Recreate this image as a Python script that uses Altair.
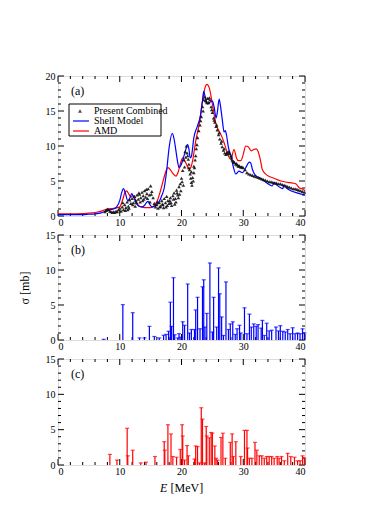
import altair as alt
import pandas as pd

W, HA, HB, HC = 247, 140, 105, 106
FONT = "Liberation Serif"

# ---- panel (a): experimental photoabsorption (triangles)
exp_E = [7.6, 7.8, 8.0, 8.2, 8.4, 8.6, 8.8, 9.0, 9.2, 9.4, 9.6, 9.8, 10.0, 10.2, 10.4,
         10.6, 10.8, 11.0, 11.2, 11.4, 11.6, 11.8, 12.0, 12.2, 12.4, 12.6, 12.8, 13.0,
         13.2, 13.4, 13.6, 13.8, 14.0, 14.2, 14.4, 14.6, 14.8, 15.0, 15.2, 15.4, 15.6,
         15.8, 16.0, 16.2, 16.4, 16.6, 16.8, 17.0, 17.2, 17.4, 17.6, 17.8, 18.0, 18.2,
         18.4, 18.6, 18.8, 19.0, 19.2, 19.4, 19.6, 19.8, 20.0, 20.2, 20.4, 20.6, 20.8,
         21.0, 21.2, 21.4, 21.6, 21.8, 22.0, 22.2, 22.4, 22.6, 22.8, 23.0, 23.2, 23.4,
         23.6, 23.8, 24.0, 24.2, 24.4, 24.6, 24.8, 25.0, 25.2, 25.4, 25.6, 25.8, 26.0,
         26.2, 26.4, 26.6, 26.8, 27.0, 27.2, 27.4, 27.6, 27.8, 28.0, 28.2, 28.4, 28.6,
         28.8, 29.0, 29.2, 29.4, 29.6, 29.8, 30.0, 30.3, 30.6, 30.9, 31.2, 31.5, 31.8,
         32.1, 32.4, 32.7, 33.0, 33.3, 33.6, 33.9, 34.2, 34.5, 34.8, 35.1, 35.4, 35.7,
         36.0, 36.3, 36.6, 36.9, 37.2, 37.5, 37.8, 38.1, 38.4, 38.7, 39.0, 39.3, 39.6,
         39.9,
         10.9, 11.5, 12.1, 12.7, 13.3, 13.9, 14.5, 15.1, 17.1, 17.7, 18.3, 18.9, 19.1,
         19.5, 19.9, 20.3, 20.5, 20.9, 21.1, 21.3, 21.5, 21.7, 21.9, 22.1, 22.3, 22.5,
         23.1, 23.5, 23.9, 24.1, 24.5, 24.9, 25.3, 25.7, 26.1, 26.5, 26.9, 27.3, 27.7,
         28.1, 28.5, 28.9, 29.3, 29.7,
         10.5, 11.3, 12.5, 13.1, 13.7, 14.3, 14.9, 16.1, 16.5, 16.9, 17.5, 18.1, 18.7,
         19.3, 19.7, 20.1, 20.7, 21.2, 21.6, 22.0]
exp_S = [0.6, 0.8, 1.0, 0.9, 0.7, 0.6, 0.5, 0.6, 0.5, 0.7, 0.6, 0.9, 1.1, 0.7, 1.3,
         0.9, 1.6, 1.2, 2.0, 1.4, 2.3, 1.8, 2.5, 1.9, 2.8, 2.2, 3.0, 2.4,
         3.1, 2.6, 3.4, 2.9, 3.6, 2.7, 3.2, 3.9, 3.0, 4.3, 3.5, 2.6, 1.8,
         1.3, 1.6, 1.1, 1.9, 1.4, 2.2, 1.6, 2.5, 1.9, 2.8, 2.2, 1.8, 2.6,
         1.5, 2.9, 3.3, 2.5, 3.7, 3.0, 4.2, 4.6, 5.4, 6.5, 8.0, 9.2, 10.0,
         8.6, 7.4, 6.0, 4.8, 5.5, 6.2, 8.0, 9.6, 11.2, 12.2, 13.0, 14.2, 15.6,
         16.6, 17.0, 16.4, 16.8, 16.2, 16.6, 15.6, 14.8, 14.0, 13.4, 12.8, 12.3, 11.6,
         11.0, 10.4, 9.9, 9.4, 9.0, 8.8, 9.1, 9.2, 8.9, 8.6, 8.0, 7.8, 7.6,
         7.4, 7.3, 7.1, 7.1, 7.0, 7.0, 6.9, 6.6, 6.2, 6.0, 5.9, 5.8, 5.7,
         5.6, 5.5, 5.4, 5.3, 5.2, 5.1, 5.0, 4.9, 4.9, 4.8, 4.7, 4.7, 4.6,
         4.6, 4.5, 4.4, 4.3, 4.2, 4.1, 4.0, 3.9, 3.9, 3.8, 3.7, 3.6, 3.5,
         3.4,
         0.8, 1.1, 1.6, 1.9, 2.0, 2.4, 2.5, 3.1, 1.2, 1.5, 1.9, 1.7, 2.0,
         2.6, 3.6, 4.4, 7.0, 9.0, 8.1, 6.6, 5.4, 4.4, 5.0, 6.9, 8.6, 10.2,
         13.6, 15.0, 16.5, 16.2, 16.9, 15.2, 13.7, 13.0, 11.9, 10.7, 9.6, 8.9, 9.0,
         8.4, 7.7, 7.5, 7.2, 7.0,
         1.9, 0.9, 1.4, 3.3, 2.2, 3.8, 2.0, 2.0, 1.3, 1.7, 1.3, 2.2, 2.4,
         3.3, 3.1, 4.9, 8.4, 6.9, 6.3, 7.1]

# ---- panel (a): theoretical curves
sm_E = [0, 2, 4, 5, 6, 7, 7.5, 8, 8.5, 9, 9.5, 10, 10.3, 10.6, 10.9, 11.3, 11.6, 11.95,
        12.3, 12.7, 13.1, 13.6, 14.0, 14.4, 14.6, 14.9, 15.3, 15.8, 16.4, 16.8, 17.2,
        17.6, 18.0, 18.5, 18.8, 19.1, 19.4, 19.6, 19.9, 20.3, 20.6, 21.0, 21.2, 21.4,
        21.6, 22.0, 22.6, 23.1, 23.4, 23.6, 23.9, 24.2, 24.5, 25.0, 25.3, 25.6, 25.8,
        26.1, 26.3, 26.6, 26.9, 27.1, 27.3, 27.6, 28.0, 28.4, 28.8, 29.3, 29.9, 30.4,
        31.0, 31.2, 31.5, 32.1, 32.6, 33.4, 34.2, 34.7, 35.0, 35.6, 36.4, 36.6, 37.0,
        37.7, 38.7, 40]
sm_S = [0.2, 0.2, 0.2, 0.25, 0.3, 0.45, 0.6, 0.8, 0.9, 1.0, 1.3, 2.2, 3.3, 3.9, 3.3,
        2.2, 2.5, 3.2, 2.6, 1.8, 1.4, 1.3, 1.5, 2.0, 2.1, 1.6, 1.3, 1.5, 2.1, 2.9, 4.0,
        6.5, 9.8, 11.8, 11.0, 9.3, 7.6, 6.9, 7.2, 8.3, 9.2, 10.2, 9.6, 8.3,
        8.5, 11.2, 12.9, 14.5, 16.5, 17.8, 16.7, 16.0, 16.2, 16.4, 15.5, 14.0, 14.8,
        16.7, 15.8, 13.8, 12.0, 12.2, 11.5, 9.8, 8.6, 7.0, 6.0, 6.4, 6.2, 6.9,
        7.7, 7.6, 6.6, 5.7, 5.5, 5.0, 4.5, 4.3, 4.8, 4.3, 3.9, 4.4, 4.0,
        3.6, 3.3, 3.0]
amd_E = [0, 2, 4, 5, 6, 7, 7.5, 8, 9, 10, 10.5, 10.8, 11.1, 11.5, 11.8, 12.1, 12.4,
         12.8, 13.2, 14.0, 15.0, 15.6, 16.1, 16.5, 16.9, 17.3, 17.8, 18.2, 18.5, 19.1,
         19.5, 19.8, 20.2, 20.5, 20.8, 21.2, 21.5, 21.8, 22.3, 22.9, 23.4, 23.8, 24.1,
         24.5, 25.0, 25.6, 26.1, 26.6, 27.0, 27.5, 28.0, 28.5, 28.9, 29.2, 29.6, 30.0,
         30.4, 30.8, 31.3, 31.7, 32.1, 32.4, 32.8, 33.1, 33.9, 35.0, 36.1, 37.2, 38.0,
         38.5, 39.1, 39.5, 40]
amd_S = [0.3, 0.3, 0.35, 0.4, 0.5, 0.7, 0.85, 1.0, 1.1, 1.3, 2.4, 3.3, 3.6, 3.1, 2.7,
         2.9, 2.6, 1.8, 1.4, 1.2, 1.2, 1.5, 2.2, 3.3, 4.6, 5.9, 6.9, 6.6, 6.2, 5.7,
         6.4, 7.4, 8.3, 7.9, 7.4, 6.7, 6.9, 7.9, 10.7, 13.3, 16.4, 18.3, 18.8,
         18.3, 16.0, 13.1, 12.1, 11.2, 10.2, 8.8, 8.1, 9.5, 8.3, 7.9, 7.9, 8.8,
         10.0, 9.9, 9.3, 9.5, 9.6, 9.2, 7.9, 6.6, 5.8, 5.4, 5.0, 4.8, 4.7,
         4.6, 4.0, 3.9, 3.6]

# ---- panel (b): shell-model strengths
smb_E = [7.4, 10.5, 12.1, 13.2, 14.0, 14.8, 15.6, 16.4, 17.1, 17.5, 17.9, 18.2, 18.4,
         18.7, 18.9, 19.4, 19.6, 19.9, 20.2, 20.5, 21.0, 21.3, 21.6, 22.1, 22.3, 22.6,
         23.0, 23.4, 23.6, 23.8, 24.1, 24.6, 25.0, 25.2, 25.7, 26.0, 26.2, 26.5, 26.8,
         27.2, 27.6, 27.9, 28.3, 28.7, 29.0, 29.4, 29.6, 30.2, 30.6, 31.0, 31.3, 31.7,
         32.1, 32.4, 32.9, 33.1, 33.4, 33.8, 34.2, 34.6, 35.3, 35.7, 36.0, 36.4, 36.8,
         37.2, 37.6, 38.0, 38.4, 38.8, 39.2, 39.6, 39.9]
smb_S = [0.1, 5.05, 3.9, 0.3, 0.3, 1.95, 0.5, 0.3, 0.67, 0.8, 1.25, 5.4, 1.95,
         8.9, 0.75, 0.3, 0.9, 0.4, 2.6, 2.1, 8.0, 1.0, 1.5, 1.5, 4.3, 6.1,
         1.6, 7.6, 8.6, 1.85, 3.8, 11.0, 1.15, 6.1, 1.85, 10.3, 6.6, 3.3, 0.65,
         8.3, 1.5, 2.3, 2.6, 0.8, 1.6, 2.1, 1.0, 4.6, 0.9, 3.7, 1.85, 2.3,
         1.95, 2.2, 1.7, 2.8, 0.65, 2.4, 1.3, 1.4, 1.85, 1.3, 2.05, 1.25, 1.15,
         1.5, 0.9, 1.75, 0.9, 1.0, 0.9, 1.6, 1.0]

# ---- panel (c): AMD strengths
amdb_E = [8.4, 9.55, 11.2, 11.3, 12.1, 13.4, 14.25, 15.7, 17.2, 17.3, 17.8, 18.3, 18.6,
          19.2, 19.8, 20.1, 20.2, 20.5, 20.9, 21.1, 22.1, 22.3, 22.6, 22.9, 23.2, 23.4,
          23.7, 24.0, 24.1, 24.5, 24.8, 25.0, 25.4, 25.6, 25.85, 26.4, 26.7, 27.1, 27.9,
          28.2, 28.4, 28.8, 29.6, 30.2, 30.6, 30.7, 31.0, 31.4, 31.9, 32.2, 32.6, 33.0,
          33.4, 33.8, 34.2, 34.6, 35.0, 35.5, 35.8, 36.2, 36.65, 37.2, 37.7, 38.3, 38.8,
          39.2, 39.6, 39.9]
amdb_S = [1.5, 0.7, 5.2, 1.3, 2.1, 0.3, 0.4, 1.2, 3.3, 2.1, 5.7, 4.4, 1.2,
          1.1, 2.2, 5.7, 4.1, 0.7, 2.75, 1.3, 0.85, 2.7, 2.6, 0.3, 8.1, 6.5,
          0.3, 5.45, 4.1, 3.85, 4.6, 4.5, 2.7, 0.95, 0.7, 3.9, 4.5, 0.95, 3.2,
          4.4, 1.2, 3.3, 1.2, 4.9, 4.9, 2.4, 0.95, 0.95, 3.2, 2.1, 1.3, 1.3,
          0.95, 1.2, 1.2, 1.2, 0.95, 1.2, 0.95, 1.2, 0.6, 1.65, 1.2, 1.1, 0.6,
          0.6, 1.3, 0.95]

legend_labels = ["Present Combined", "Shell Model", "AMD"]
panel_labels = ["(a)", "(b)", "(c)"]
x_major = [0, 10, 20, 30, 40]
x_minor = [2, 4, 6, 8, 12, 14, 16, 18, 22, 24, 26, 28, 32, 34, 36, 38]
BLUE, RED = "#0000ff", "#ff0000"

xs = alt.Scale(domain=[0, 40], nice=False, zero=False)
xaxis = alt.Axis(values=x_major, ticks=False, domain=False, grid=False, title=None,
                 labelFont=FONT, labelFontSize=10, labelPadding=1, labelColor="black")


def yaxis(ymax, title=None):
    kw = dict(values=list(range(0, ymax + 1, 5)), ticks=False, domain=False, grid=False,
              labelFont=FONT, labelFontSize=10, labelPadding=3, labelColor="black")
    if title:
        kw.update(title=title, titleFont=FONT, titleFontSize=12, titleFontWeight="normal",
                  titleColor="black", titlePadding=14)
    else:
        kw.update(title=None)
    return alt.Axis(**kw)


def tick_layers(ymax, H, ys, ya):
    layers = []
    for vals, L in ((x_major, 6), (x_minor, 3)):
        base = alt.Chart(pd.DataFrame({"v": vals})).mark_rule(color="black", strokeWidth=1)
        X = alt.X("v:Q", scale=xs, axis=xaxis)
        layers.append(base.encode(x=X, y=alt.value(H), y2=alt.value(H - L)))
        layers.append(base.encode(x=X, y=alt.value(0), y2=alt.value(L)))
    ymaj = list(range(0, ymax + 1, 5))
    ymin = [v for v in range(0, ymax + 1) if v % 5]
    for vals, L in ((ymaj, 6), (ymin, 3)):
        base = alt.Chart(pd.DataFrame({"v": vals})).mark_rule(color="black", strokeWidth=1)
        Y = alt.Y("v:Q", scale=ys, axis=ya)
        layers.append(base.encode(y=Y, x=alt.value(0), x2=alt.value(L)))
        layers.append(base.encode(y=Y, x=alt.value(W), x2=alt.value(W - L)))
    return layers


def label_layer(txt):
    return alt.Chart(pd.DataFrame({"t": [txt]})).mark_text(
        font=FONT, fontSize=12, align="left", baseline="alphabetic", color="black"
    ).encode(text="t:N", x=alt.value(13), y=alt.value(19))


# ----- panel (a)
ysa = alt.Scale(domain=[0, 20], nice=False)
yaa = yaxis(20)
exp_df = pd.DataFrame({"E": exp_E, "S": exp_S})
sm_df = pd.DataFrame({"E": sm_E, "S": sm_S})
amd_df = pd.DataFrame({"E": amd_E, "S": amd_S})

pts = alt.Chart(exp_df).mark_point(shape="triangle-up", filled=True, color="#111111",
                                    size=13, opacity=0.9).encode(
    x=alt.X("E:Q", scale=xs, axis=xaxis), y=alt.Y("S:Q", scale=ysa, axis=yaa))
sm_line = alt.Chart(sm_df).mark_line(color=BLUE, strokeWidth=1.2, interpolate="monotone").encode(
    x=alt.X("E:Q", scale=xs, axis=xaxis), y=alt.Y("S:Q", scale=ysa, axis=yaa))
amd_line = alt.Chart(amd_df).mark_line(color=RED, strokeWidth=1.2, interpolate="monotone").encode(
    x=alt.X("E:Q", scale=xs, axis=xaxis), y=alt.Y("S:Q", scale=ysa, axis=yaa))

one = pd.DataFrame({"t": [legend_labels[0]]})
leg_box = alt.Chart(one).mark_rect(fill="white", stroke="black", strokeWidth=1).encode(
    x=alt.value(11), x2=alt.value(103), y=alt.value(28), y2=alt.value(60))
leg_tri = alt.Chart(one).mark_point(shape="triangle-up", filled=True, color="black", size=16).encode(
    x=alt.value(22), y=alt.value(35))
leg_blue = alt.Chart(one).mark_rule(color=BLUE, strokeWidth=1.2).encode(
    x=alt.value(15), x2=alt.value(31), y=alt.value(45))
leg_red = alt.Chart(one).mark_rule(color=RED, strokeWidth=1.2).encode(
    x=alt.value(15), x2=alt.value(31), y=alt.value(55))
leg_txt = [alt.Chart(pd.DataFrame({"t": [lab]})).mark_text(
    font=FONT, fontSize=10, align="left", baseline="middle", color="black").encode(
    text="t:N", x=alt.value(36), y=alt.value(yy))
    for lab, yy in zip(legend_labels, [35, 45, 55])]

panel_a = alt.layer(
    *tick_layers(20, HA, ysa, yaa), amd_line, sm_line, pts,
    leg_box, leg_tri, leg_blue, leg_red, *leg_txt, label_layer(panel_labels[0])
).properties(width=W, height=HA)


# ----- strength panels
def strength_panel(E, S, color, H, label, ytitle=None, xtitle=False):
    ys = alt.Scale(domain=[0, 15], nice=False)
    ya = yaxis(15, ytitle)
    df = pd.DataFrame({"E": E, "S": S})
    stems = alt.Chart(df).mark_rule(color=color, strokeWidth=1.2).encode(
        x=alt.X("E:Q", scale=xs, axis=xaxis), y=alt.Y("S:Q", scale=ys, axis=ya),
        y2=alt.datum(0))
    caps = alt.Chart(df).mark_tick(color=color, orient="horizontal", size=4, thickness=1.2).encode(
        x=alt.X("E:Q", scale=xs, axis=xaxis), y=alt.Y("S:Q", scale=ys, axis=ya))
    layers = [*tick_layers(15, H, ys, ya), stems, caps, label_layer(label)]
    if xtitle:
        layers.append(alt.Chart(pd.DataFrame({"t": ["E"]})).mark_text(
            font=FONT, fontSize=12, fontStyle="italic", align="left", baseline="alphabetic",
            color="black").encode(text="t:N", x=alt.value(102), y=alt.value(H + 27)))
        layers.append(alt.Chart(pd.DataFrame({"t": ["[MeV]"]})).mark_text(
            font=FONT, fontSize=12, align="left", baseline="alphabetic",
            color="black").encode(text="t:N", x=alt.value(112.5), y=alt.value(H + 27)))
    return alt.layer(*layers).properties(width=W, height=H)


panel_b = strength_panel(smb_E, smb_S, BLUE, HB, panel_labels[1], ytitle="σ [mb]")
panel_c = strength_panel(amdb_E, amdb_S, RED, HC, panel_labels[2], xtitle=True)

chart = alt.vconcat(panel_a, panel_b, panel_c, spacing=1).properties(
    padding={"left": 9, "top": 62, "right": 5, "bottom": 5}
).configure_view(stroke="black", strokeWidth=1).configure(
    background="white"
).configure_axis(labelFont=FONT, titleFont=FONT, labelColor="black", titleColor="black")

chart.save("out.html", embed_options={"renderer": "svg", "actions": False})
